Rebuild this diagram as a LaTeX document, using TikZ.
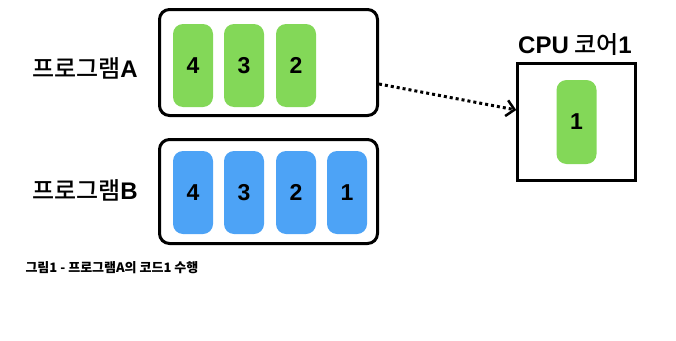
\documentclass[tikz,border=0pt]{standalone}
\usepackage{fontspec}
\setmainfont{Noto Sans CJK KR}
\newfontfamily\medfont{Noto Sans CJK KR Medium}
\newfontfamily\numfont{Liberation Sans}
\usetikzlibrary{arrows.meta}
\definecolor{codegreen}{RGB}{131,216,88}
\definecolor{codeblue}{RGB}{77,163,246}

\tikzset{
  progbox/.style={draw,line width=3pt,rounded corners=10pt,
        minimum width=218pt,minimum height=106pt},
  codepill/.style={rounded corners=10pt,minimum width=40pt,minimum height=83pt,
        font=\numfont\bfseries\fontsize{23}{28}\selectfont},
  proglabel/.style={font=\medfont\fontsize{24}{28}\selectfont}
}

\begin{document}
\begin{tikzpicture}[x=1pt,y=-1pt,>=Stealth]
  \useasboundingbox (0,0) rectangle (676,340);
  %% program boxes
  \node[progbox] (boxA) at (268.5,62.5) {};
  \node[progbox,minimum height=104pt] (boxB) at (268.5,191.5) {};
  \node[proglabel] (progA) at (85,68) {프로그램{\numfont\bfseries A}};
  \node[proglabel] (progB) at (85,190) {프로그램{\numfont\bfseries B}};
  \node[codepill,fill=codegreen] (a4) at (193,65.5) {4};
  \node[codepill,fill=codegreen] (a3) at (244,65.5) {3};
  \node[codepill,fill=codegreen] (a2) at (296,65.5) {2};
  \node[codepill,fill=codeblue] (b4) at (193,192.5) {4};
  \node[codepill,fill=codeblue] (b3) at (244,192.5) {3};
  \node[codepill,fill=codeblue] (b2) at (296,192.5) {2};
  \node[codepill,fill=codeblue] (b1) at (347,192.5) {1};
  %% cpu core
  \node[draw,line width=2.5pt,minimum width=118pt,minimum height=117pt]
        (cpu) at (576.5,122) {};
  \node[proglabel] (cpulabel) at (575,45)
        {{\numfont\bfseries CPU} 코어{\numfont\bfseries 1}};
  \node[codepill,fill=codegreen,minimum height=84pt] (c1) at (576.5,122) {1};
  \draw[->,line width=3pt,dash pattern=on 3pt off 3pt,
        -{Straight Barb[length=8pt,width=16pt,line width=2.5pt]}]
        ([yshift=-21.5pt]boxA.east) -- ([yshift=12pt]cpu.west);
  %% caption
  \node[anchor=west,font=\bfseries\fontsize{13}{15}\selectfont] (caption)
        at (22,268) {그림1 - 프로그램A의 코드1 수행};
\end{tikzpicture}
\end{document}
